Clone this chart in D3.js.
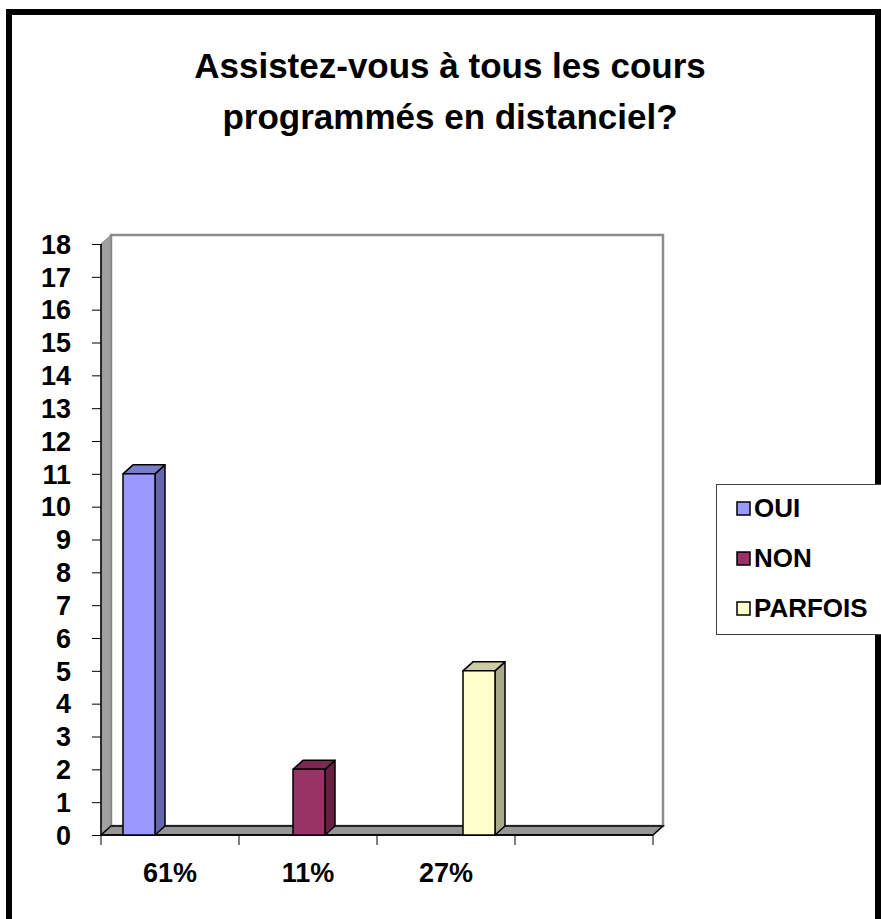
<!DOCTYPE html>
<meta charset="utf-8">
<style>

body { margin: 0; background: #fff; }

text {
  font-family: "Liberation Sans", Arial, sans-serif;
  font-weight: bold;
  fill: #000;
}

.title { font-size: 35px; text-anchor: middle; }
.ylab { font-size: 27px; text-anchor: end; }
.xlab { font-size: 27px; text-anchor: middle; }
.legend text { font-size: 26px; }

</style>
<body>
<script src="https://cdn.jsdelivr.net/npm/d3@7"></script>
<script>

// data
var series = ["OUI", "NON", "PARFOIS"];
var values = [11, 2, 5];
var catLabels = ["61%", "11%", "27%", ""];
var yTicks = d3.range(0, 19);
var titleLines = ["Assistez-vous à tous les cours", "programmés en distanciel?"];

var width = 881,
    height = 919;

var color = d3.scaleOrdinal()
    .domain(series)
    .range(["#9999ff", "#993366", "#ffffcc"]);

var sideColor = d3.scaleOrdinal()
    .domain(series)
    .range(["#6666b0", "#66213f", "#a8a88a"]);

var topColor = d3.scaleOrdinal()
    .domain(series)
    .range(["#7b7bcc", "#7a2952", "#cccca3"]);

// 3d depth offset
var dx = 10, dy = -9;

var y = d3.scaleLinear()
    .domain([0, 18])
    .range([835, 244]);

var x = d3.scaleBand()
    .domain(catLabels.map(function(d, i) { return i; }))
    .range([101, 653]);

var barX = d3.scaleBand()
    .domain(series)
    .range([123, 495])
    .paddingInner(138 / 170);

var svg = d3.select("body").append("svg")
    .attr("width", width)
    .attr("height", height);

// outer frame
svg.append("rect")
    .attr("x", 9)
    .attr("y", 12)
    .attr("width", 869)
    .attr("height", 940)
    .style("fill", "#fff")
    .style("stroke", "#000")
    .style("stroke-width", 6);

svg.selectAll(".title")
    .data(titleLines)
  .enter().append("text")
    .attr("class", "title")
    .attr("x", 450)
    .attr("y", function(d, i) { return 78 + i * 51; })
    .text(function(d) { return d; });

var x0 = x.range()[0], x1 = x.range()[1];
var y0 = y(0), yTop = y(18);

// back wall
svg.append("rect")
    .attr("x", x0 + dx)
    .attr("y", yTop + dy)
    .attr("width", x1 - x0)
    .attr("height", y0 - yTop)
    .style("fill", "#fff")
    .style("stroke", "#8c8c8c")
    .style("stroke-width", 2.5);

// side wall
svg.append("path")
    .attr("d", "M" + x0 + "," + yTop + "L" + (x0 + dx) + "," + (yTop + dy) +
               "L" + (x0 + dx) + "," + (y0 + dy) + "L" + x0 + "," + y0 + "Z")
    .style("fill", "#a0a0a0")
    .style("stroke", "#808080");

// floor
svg.append("path")
    .attr("d", "M" + x0 + "," + y0 + "L" + (x0 + dx) + "," + (y0 + dy) +
               "L" + (x1 + dx) + "," + (y0 + dy) + "L" + x1 + "," + y0 + "Z")
    .style("fill", "#969696")
    .style("stroke", "#000")
    .style("stroke-width", 1.5);

// y axis
var yAxis = svg.append("g")
    .attr("transform", "translate(" + x0 + ",0)")
    .call(d3.axisLeft(y).tickValues(yTicks).tickSize(9).tickFormat(""));

yAxis.select(".domain").attr("d", "M0," + yTop + "V" + y0).style("stroke-width", 1.5);

svg.selectAll(".ylab")
    .data(yTicks)
  .enter().append("text")
    .attr("class", "ylab")
    .attr("x", 71)
    .attr("y", function(d) { return y(d); })
    .attr("dy", "0.36em")
    .text(function(d) { return d; });

// x axis
var xTicks = x.domain().map(function(d) { return x(d); }).concat([x1]);

svg.append("line")
    .attr("x1", x0).attr("x2", x1)
    .attr("y1", y0).attr("y2", y0)
    .style("stroke", "#000")
    .style("stroke-width", 1.5);

svg.selectAll(".xtick")
    .data(xTicks)
  .enter().append("line")
    .attr("class", "xtick")
    .attr("x1", function(d) { return d; })
    .attr("x2", function(d) { return d; })
    .attr("y1", y0)
    .attr("y2", y0 + 10)
    .style("stroke", "#000");

svg.selectAll(".xlab")
    .data(catLabels)
  .enter().append("text")
    .attr("class", "xlab")
    .attr("x", function(d, i) { return x(i) + x.bandwidth() / 2; })
    .attr("y", 882)
    .text(function(d) { return d; });

// bars
var bar = svg.selectAll(".bar")
    .data(series.map(function(s, i) { return {name: s, value: values[i]}; }))
  .enter().append("g")
    .attr("class", "bar")
    .style("stroke", "#000")
    .style("stroke-width", 1.5)
    .style("stroke-linejoin", "round");

bar.append("path")
    .attr("d", function(d) {
      var bx = barX(d.name) + barX.bandwidth(), t = y(d.value);
      return "M" + bx + "," + t + "L" + (bx + dx) + "," + (t + dy) +
             "L" + (bx + dx) + "," + (y0 + dy) + "L" + bx + "," + y0 + "Z";
    })
    .style("fill", function(d) { return sideColor(d.name); });

bar.append("path")
    .attr("d", function(d) {
      var bx = barX(d.name), w = barX.bandwidth(), t = y(d.value);
      return "M" + bx + "," + t + "L" + (bx + dx) + "," + (t + dy) +
             "L" + (bx + w + dx) + "," + (t + dy) + "L" + (bx + w) + "," + t + "Z";
    })
    .style("fill", function(d) { return topColor(d.name); });

bar.append("rect")
    .attr("x", function(d) { return barX(d.name); })
    .attr("y", function(d) { return y(d.value); })
    .attr("width", barX.bandwidth())
    .attr("height", function(d) { return y0 - y(d.value); })
    .style("fill", function(d) { return color(d.name); });

// legend
var legend = svg.append("g")
    .attr("class", "legend");

legend.append("rect")
    .attr("x", 716.5)
    .attr("y", 484.5)
    .attr("width", 200)
    .attr("height", 150)
    .style("fill", "#fff")
    .style("stroke", "#404040");

var item = legend.selectAll(".item")
    .data(series)
  .enter().append("g")
    .attr("class", "item")
    .attr("transform", function(d, i) { return "translate(737," + (502 + i * 50) + ")"; });

item.append("rect")
    .attr("width", 13)
    .attr("height", 13)
    .style("fill", function(d) { return color(d); })
    .style("stroke", "#000")
    .style("stroke-width", 1.5);

item.append("text")
    .attr("x", 17)
    .attr("y", 15)
    .text(function(d) { return d; });

</script>
</body>
